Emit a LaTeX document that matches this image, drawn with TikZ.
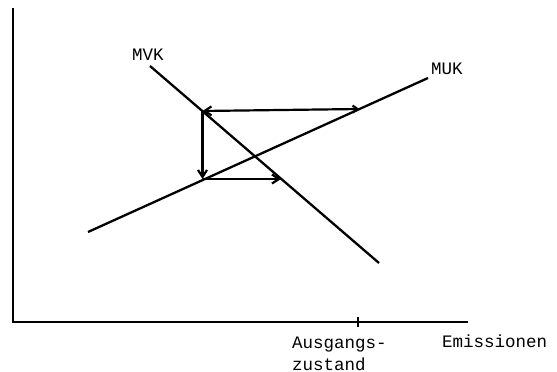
\documentclass[tikz,border=0pt]{standalone}
\usepackage{fontspec}
\setmonofont{Liberation Mono}
\usepackage{tikz}
\usetikzlibrary{arrows.meta}

\tikzset{
	lbl/.style={font=\ttfamily\fontsize{17.5}{22}\selectfont, inner sep=0pt, align=left},
	curve/.style={line width=2.3pt},
	move/.style={line width=2.2pt, -{Straight Barb[length=7pt,width=9pt]}}
}

\begin{document}
\begin{tikzpicture}[x=1pt,y=-1pt]
			\useasboundingbox (0,0) rectangle (557,372);
			% Achsen
			\coordinate (yTop) at (13,8);
			\coordinate (xEnd) at (468,322);
			\coordinate (start) at (358,322);
			\draw[line width=1.8pt] (yTop) |- (xEnd);
			\draw[line width=1.5pt] ([yshift=-5pt]start) -- ([yshift=5pt]start);
			% Kurven
			\coordinate (mvkA) at (150,66);
			\coordinate (mvkB) at (379,263);
			\coordinate (mukA) at (88,232);
			\coordinate (mukB) at (428,78);
			\draw[curve] (mvkA) -- (mvkB);
			\draw[curve] (mukA) -- (mukB);
			\node[lbl, anchor=base] (mvk) at (148,60) {MVK};
			\node[lbl, anchor=base west] (muk) at (431,74) {MUK};
			% Anpassung
			\coordinate (p1) at (359.5,109);
			\coordinate (p2) at (202.5,111);
			\coordinate (p3) at (202.5,179);
			\coordinate (p4) at (281,179);
			\draw[move, {Straight Barb[length=5pt,width=7pt]}-{Straight Barb[length=7pt,width=9pt]}] (p1) -- (p2);
			\draw[move] (p2) -- (p3);
			\draw[move] (p3) -- (p4);
			% Beschriftung
			\node[lbl, anchor=base west] (ausgang) at (292,370) {Ausgangs-\\zustand};
			\node[lbl, anchor=base west] (emis) at (442,347) {Emissionen};
		\end{tikzpicture}
\end{document}
